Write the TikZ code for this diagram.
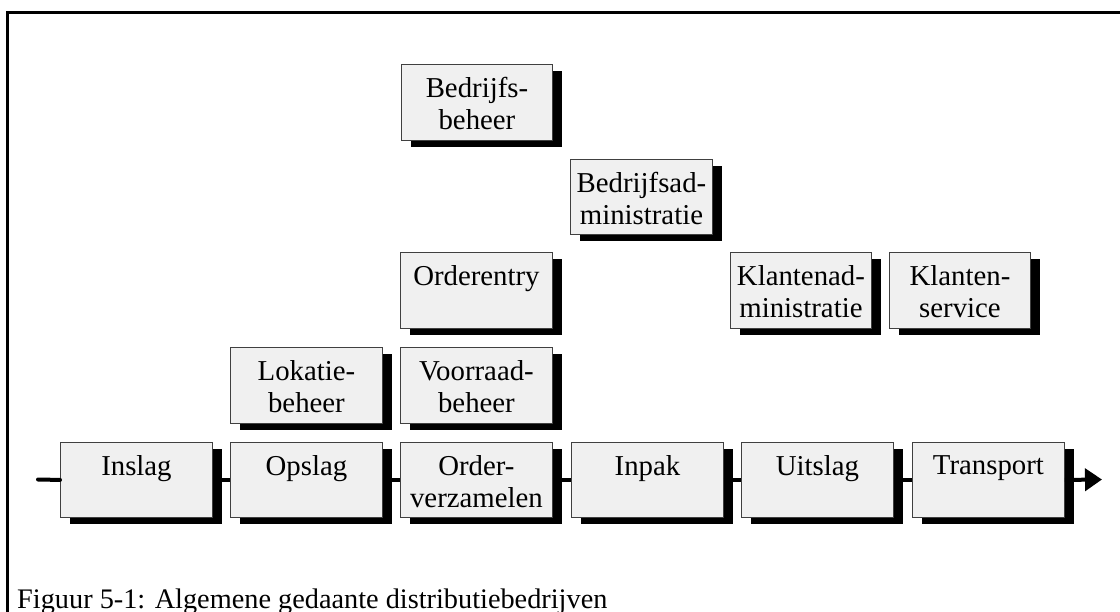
\documentclass[tikz,border=0pt]{standalone}
\usepackage{fontspec}
\setmainfont{Liberation Serif}
\usetikzlibrary{arrows.meta,shadows}

\tikzset{
  blk/.style={draw=black!75, line width=0.9pt, fill=black!6, anchor=north west,
    minimum width=152pt, minimum height=75pt, inner sep=0pt,
    drop shadow={shadow xshift=10pt, shadow yshift=-7pt, fill=black, opacity=1}},
  lbl/.style={anchor=north, inner sep=0pt, align=center,
    font=\fontsize{28.8}{32}\selectfont},
  flow/.style={line width=4pt},
}

\newcommand{\blocktext}[2]{\node[lbl] at ([yshift=-13.5pt]#1.north) {#2};}

\begin{document}
\begin{tikzpicture}[x=1pt,y=-1pt]
  \useasboundingbox (0,0) rectangle (1120,612);

  % frame
  \draw[line width=3pt] (7.5,612) -- (7.5,13) -- (1120,13);

  % main process chain
  \node[blk] (inslag)    at (60,442)  {};
  \node[blk] (opslag)    at (230,442) {};
  \node[blk] (verzamel)  at (400,442) {};
  \node[blk] (inpak)     at (571,442) {};
  \node[blk] (uitslag)   at (741,442) {};
  \node[blk] (transport) at (912,442) {};

  % supporting functions
  \node[blk, minimum height=76pt] (lokatie)   at (230,347) {};
  \node[blk, minimum height=76pt] (voorraad)  at (400,347) {};
  \node[blk, minimum height=76pt] (orderentry) at (400,252) {};
  \node[blk, minimum width=141pt, minimum height=76pt] (klantadm) at (730,252) {};
  \node[blk, minimum width=141pt, minimum height=76pt] (klantserv) at (889,252) {};
  \node[blk, minimum width=142pt] (bedrijfsadm) at (570,159) {};
  \node[blk, minimum width=151pt, minimum height=76pt] (bedrijfsbeh) at (401,64) {};

  \blocktext{inslag}{Inslag}
  \blocktext{opslag}{Opslag}
  \blocktext{verzamel}{Order-\\verzamelen}
  \blocktext{inpak}{Inpak}
  \blocktext{uitslag}{Uitslag}
  \blocktext{transport}{Transport}
  \blocktext{lokatie}{Lokatie-\\beheer}
  \blocktext{voorraad}{Voorraad-\\beheer}
  \blocktext{orderentry}{Orderentry}
  \blocktext{klantadm}{Klantenad-\\ministratie}
  \blocktext{klantserv}{Klanten-\\service}
  \blocktext{bedrijfsadm}{Bedrijfsad-\\ministratie}
  \blocktext{bedrijfsbeh}{Bedrijfs-\\beheer}

  % flow line
  \coordinate (begin) at (38,479.5);
  \coordinate (finish) at (1102,479.5);
  \draw[flow, line cap=round] (begin) -- (inslag.west);
  \draw[flow] (inslag.east) -- (opslag.west);
  \draw[flow] (opslag.east) -- (verzamel.west);
  \draw[flow] (verzamel.east) -- (inpak.west);
  \draw[flow] (inpak.east) -- (uitslag.west);
  \draw[flow] (uitslag.east) -- (transport.west);
  \draw[flow, -{Triangle[length=17pt,width=22pt]}] (transport.east) -- (finish);

  % caption
  \node[anchor=base west, inner sep=0pt, font=\fontsize{28.3}{32}\selectfont]
    (caption) at (17,608) {Figuur 5-1: Algemene gedaante distributiebedrijven};
\end{tikzpicture}
\end{document}
